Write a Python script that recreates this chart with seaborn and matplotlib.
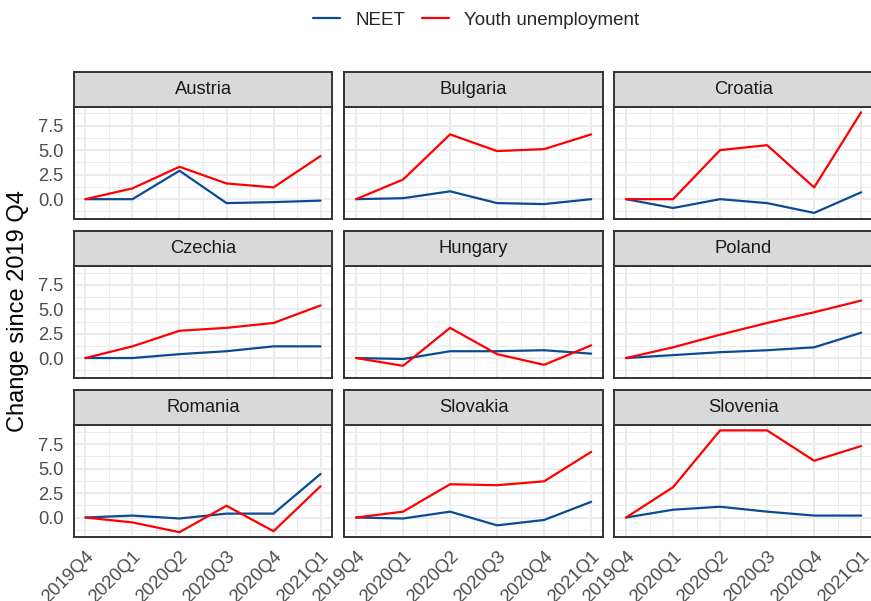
import numpy as np
import pandas as pd
import matplotlib
matplotlib.use("Agg")
import matplotlib.pyplot as plt
import seaborn as sns
from matplotlib.lines import Line2D

# ---- data -------------------------------------------------------------
quarters = ["2019Q4", "2020Q1", "2020Q2", "2020Q3", "2020Q4", "2021Q1"]
countries = ["Austria", "Bulgaria", "Croatia",
             "Czechia", "Hungary", "Poland",
             "Romania", "Slovakia", "Slovenia"]

neet = {
    "Austria":  [0.0, 0.0, 2.9, -0.4, -0.3, -0.15],
    "Bulgaria": [0.0, 0.1, 0.8, -0.4, -0.5, 0.0],
    "Croatia":  [0.0, -0.9, 0.0, -0.4, -1.4, 0.7],
    "Czechia":  [0.0, 0.0, 0.4, 0.7, 1.2, 1.2],
    "Hungary":  [0.0, -0.1, 0.7, 0.7, 0.8, 0.45],
    "Poland":   [0.0, 0.3, 0.6, 0.8, 1.1, 2.6],
    "Romania":  [0.0, 0.2, -0.1, 0.4, 0.4, 4.45],
    "Slovakia": [0.0, -0.1, 0.6, -0.8, -0.25, 1.6],
    "Slovenia": [0.0, 0.8, 1.1, 0.6, 0.2, 0.2],
}
youth_unemployment = {
    "Austria":  [0.0, 1.1, 3.3, 1.6, 1.2, 4.4],
    "Bulgaria": [0.0, 2.0, 6.6, 4.9, 5.1, 6.6],
    "Croatia":  [0.0, 0.0, 5.0, 5.5, 1.2, 8.85],
    "Czechia":  [0.0, 1.2, 2.8, 3.1, 3.6, 5.4],
    "Hungary":  [0.0, -0.8, 3.1, 0.4, -0.7, 1.3],
    "Poland":   [0.0, 1.1, 2.4, 3.6, 4.7, 5.9],
    "Romania":  [0.0, -0.5, -1.5, 1.2, -1.4, 3.2],
    "Slovakia": [0.0, 0.6, 3.4, 3.3, 3.7, 6.7],
    "Slovenia": [0.0, 3.1, 8.9, 8.9, 5.8, 7.3],
}

series_names = ["NEET", "Youth unemployment"]
series_colors = {"NEET": "#0A4B94", "Youth unemployment": "#FF0000"}

rows = []
for c in countries:
    for q_i, q in enumerate(quarters):
        rows.append((c, q_i, q, "NEET", neet[c][q_i]))
        rows.append((c, q_i, q, "Youth unemployment", youth_unemployment[c][q_i]))
df = pd.DataFrame(rows, columns=["country", "qi", "quarter", "series", "value"])

# ---- style ------------------------------------------------------------
sns.set_style("white")
plt.rcParams["font.family"] = ["Liberation Sans", "DejaVu Sans"]

W, H = 871, 601
fig = plt.figure(figsize=(W / 100, H / 100), dpi=100)


def fx(x):
    return x / W


def fy(y):
    return 1 - y / H


col_left = [73.7, 344.3, 614.3]
panel_w = 258.6
strip_top = [72.3, 231.0, 390.0]
panel_top = [106.7, 266.3, 425.3]
panel_bot = [219.0, 377.7, 537.3]

grid_col = "#EBEBEB"
frame_col = "#333333"
tick_txt = "#4D4D4D"

lo, hi = df["value"].min(), df["value"].max()
pad = 0.05 * (hi - lo)
ylim = (lo - pad, hi + pad)
n = len(quarters)
xlim = (-0.05 * (n - 1), (n - 1) * 1.05)

for i, c in enumerate(countries):
    r, k = divmod(i, 3)
    left = col_left[k]
    ax = fig.add_axes([fx(left), fy(panel_bot[r]), panel_w / W,
                       (panel_bot[r] - panel_top[r]) / H])
    ax.set_facecolor("white")
    sub = df[df["country"] == c]
    sns.lineplot(data=sub, x="qi", y="value", hue="series",
                 hue_order=series_names, palette=series_colors,
                 linewidth=1.6, legend=False, ax=ax, zorder=3)
    ax.set_xlim(*xlim)
    ax.set_ylim(*ylim)
    ax.set_xticks(range(n))
    ax.set_xticks(np.arange(0.5, n - 1, 1.0), minor=True)
    ax.set_yticks([0, 2.5, 5.0, 7.5])
    ax.set_yticks([-1.25, 1.25, 3.75, 6.25, 8.75], minor=True)
    ax.grid(which="major", color=grid_col, linewidth=1.5, zorder=0)
    ax.grid(which="minor", color=grid_col, linewidth=0.75, zorder=0)
    ax.set_axisbelow(True)
    for s in ax.spines.values():
        s.set_color(frame_col)
        s.set_linewidth(1.4)
    ax.set_xlabel("")
    ax.set_ylabel("")
    ax.tick_params(which="minor", length=0)
    ax.tick_params(which="major", length=4.1, width=1.4, color=frame_col,
                   labelsize=13.2, labelcolor=tick_txt, pad=3.3)
    if k == 0:
        ax.set_yticklabels(["0.0", "2.5", "5.0", "7.5"])
    else:
        ax.tick_params(axis="y", which="major", length=0, labelleft=False)
    if r == 2:
        ax.set_xticklabels(quarters, rotation=45, ha="right", va="top",
                           rotation_mode="anchor")
    else:
        ax.tick_params(axis="x", which="major", length=0, labelbottom=False)

    # facet strip
    sax = fig.add_axes([fx(left), fy(panel_top[r]), panel_w / W,
                        (panel_top[r] - strip_top[r]) / H])
    sax.set_facecolor("#D9D9D9")
    sax.set_xticks([])
    sax.set_yticks([])
    for s in sax.spines.values():
        s.set_color(frame_col)
        s.set_linewidth(1.4)
    sax.text(0.5, 0.5, c, ha="center", va="center", fontsize=13.2,
             color="#1A1A1A", transform=sax.transAxes)

fig.text(fx(18), fy(311.5), "Change since 2019 Q4", rotation=90,
         ha="center", va="center", fontsize=17, color="black")

handles = [Line2D([0], [0], color=series_colors[s], linewidth=1.6)
           for s in series_names]
fig.legend(handles, series_names, loc="center", bbox_to_anchor=(fx(476), fy(20)),
           ncol=2, frameon=False, fontsize=13.5, handlelength=1.45,
           handletextpad=0.8, columnspacing=0.9)

fig.savefig("out.png", dpi=100)
